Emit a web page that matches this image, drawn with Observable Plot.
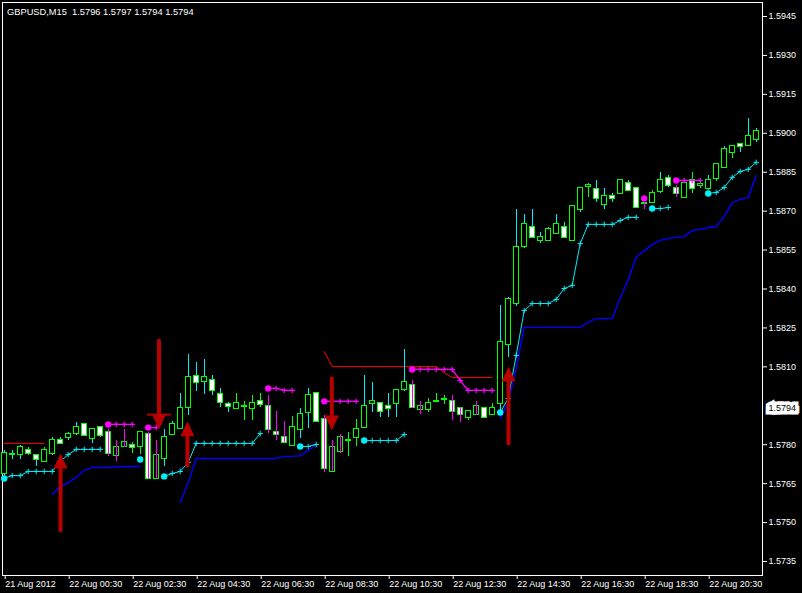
<!DOCTYPE html>
<html><head><meta charset="utf-8">
<script src="https://cdn.jsdelivr.net/npm/d3@7"></script>
<script src="https://cdn.jsdelivr.net/npm/@observablehq/plot@0.6"></script>
<style>html,body{margin:0;padding:0;background:#000;overflow:hidden}#chart svg{display:block}</style>
</head><body><div id="chart"></div>
<script>
const headerText = "GBPUSD,M15\u00a0 1.5796 1.5797 1.5794 1.5794";
const timeLabels = ["21 Aug 2012","22 Aug 00:30","22 Aug 02:30","22 Aug 04:30","22 Aug 06:30","22 Aug 08:30","22 Aug 10:30","22 Aug 12:30","22 Aug 14:30","22 Aug 16:30","22 Aug 18:30","22 Aug 20:30"];
const timeLabelBars = [0,8,16,24,32,40,48,56,64,72,80,88];
const priceTicks = [1.5945,1.5930,1.5915,1.5900,1.5885,1.5870,1.5855,1.5840,1.5825,1.5810,1.5780,1.5765,1.5750,1.5735];
const currentPrice = 1.5794;

const open = [1.57689,1.57762,1.57762,1.57778,1.57758,1.57735,1.57766,1.57816,1.57828,1.57843,
1.57878,1.57824,1.57866,1.57847,1.57758,1.57793,1.57797,1.57793,1.57839,1.57670,
1.57747,1.57839,1.57863,1.57943,1.58063,1.58044,1.58047,1.57994,1.57955,1.57940,
1.57947,1.57940,1.57967,1.57947,1.57847,1.57828,1.57797,1.57859,1.57924,1.57997,
1.57897,1.57697,1.57774,1.57816,1.57828,1.57866,1.57959,1.57959,1.57947,1.57959,
1.58013,1.58028,1.57936,1.57936,1.57966,1.57974,1.57967,1.57940,1.57905,1.57916,
1.57940,1.57916,1.57959,1.58186,1.58344,1.58564,1.58637,1.58587,1.58587,1.58614,
1.58637,1.58587,1.58706,1.58795,1.58784,1.58726,1.58757,1.58768,1.58807,1.58787,
1.58730,1.58733,1.58776,1.58826,1.58787,1.58753,1.58818,1.58799,1.58787,1.58826,
1.58868,1.58926,1.58957,1.58953,1.58976];
const high = [1.57778,1.57778,1.57797,1.57789,1.57760,1.57789,1.57828,1.57828,1.57847,1.57886,
1.57880,1.57860,1.57870,1.57859,1.57816,1.57859,1.57809,1.57851,1.57847,1.57816,
1.57859,1.57890,1.57997,1.58148,1.58117,1.58128,1.58067,1.58017,1.57963,1.57997,
1.57967,1.57990,1.57997,1.57990,1.57928,1.57890,1.57909,1.57940,1.58017,1.57999,
1.57913,1.57816,1.57839,1.57847,1.57897,1.58067,1.58040,1.57963,1.57997,1.58011,
1.58167,1.58047,1.57967,1.57978,1.57997,1.57990,1.57990,1.57942,1.57930,1.57967,
1.57942,1.57959,1.58337,1.58367,1.58706,1.58687,1.58706,1.58618,1.58637,1.58687,
1.58656,1.58720,1.58789,1.58807,1.58818,1.58787,1.58768,1.58820,1.58818,1.58789,
1.58732,1.58780,1.58849,1.58837,1.58799,1.58809,1.58849,1.58818,1.58837,1.58882,
1.58949,1.58951,1.58959,1.59057,1.59019];
const low = [1.57670,1.57743,1.57743,1.57760,1.57716,1.57733,1.57758,1.57801,1.57816,1.57836,
1.57834,1.57805,1.57828,1.57755,1.57735,1.57789,1.57766,1.57762,1.57668,1.57668,
1.57716,1.57837,1.57859,1.57913,1.58005,1.57994,1.57990,1.57943,1.57924,1.57938,
1.57893,1.57893,1.57943,1.57843,1.57816,1.57807,1.57795,1.57824,1.57863,1.57888,
1.57693,1.57695,1.57766,1.57755,1.57793,1.57864,1.57924,1.57905,1.57905,1.57905,
1.58005,1.57941,1.57916,1.57924,1.57963,1.57955,1.57893,1.57886,1.57893,1.57914,
1.57903,1.57914,1.57932,1.58136,1.58333,1.58556,1.58597,1.58575,1.58585,1.58612,
1.58597,1.58585,1.58695,1.58753,1.58733,1.58706,1.58733,1.58766,1.58778,1.58712,
1.58706,1.58731,1.58768,1.58791,1.58753,1.58751,1.58768,1.58787,1.58780,1.58814,
1.58866,1.58903,1.58926,1.58949,1.58965];
const close = [1.57766,1.57764,1.57789,1.57766,1.57743,1.57778,1.57816,1.57805,1.57839,1.57866,
1.57836,1.57859,1.57836,1.57766,1.57789,1.57809,1.57789,1.57847,1.57670,1.57758,
1.57828,1.57878,1.57940,1.58059,1.58040,1.58059,1.58009,1.57963,1.57947,1.57959,
1.57949,1.57959,1.57955,1.57859,1.57839,1.57809,1.57866,1.57916,1.57990,1.57890,
1.57708,1.57789,1.57828,1.57818,1.57859,1.57947,1.57967,1.57928,1.57940,1.58009,
1.58040,1.57943,1.57947,1.57959,1.57968,1.57975,1.57928,1.57916,1.57928,1.57947,
1.57905,1.57940,1.58194,1.58360,1.58560,1.58649,1.58599,1.58599,1.58629,1.58649,
1.58599,1.58718,1.58787,1.58797,1.58749,1.58757,1.58749,1.58818,1.58780,1.58714,
1.58731,1.58768,1.58818,1.58799,1.58768,1.58807,1.58787,1.58801,1.58818,1.58880,
1.58938,1.58949,1.58949,1.58988,1.59007];
// wick colour state per bar: c = up (aqua), m = down (magenta), g = neutral (lime)
const wickTrend = ["c","c","c","g","c","g","c","c","c","c",
"g","c","c","m","m","m","g","g","m","m",
"c","c","c","c","c","c","c","c","c","g",
"g","g","g","m","m","m","g","c","c","g",
"m","m","m","g","g","c","c","c","c","c",
"c","m","m","g","g","g","m","m","g","m",
"g","g","c","c","c","c","c","c","c","c",
"c","g","c","g","c","c","c","g","c","g",
"m","g","c","c","m","g","g","g","c","g",
"c","g","c","c","c"];

const N = null;
const cyanStop = [1.57670,1.57681,1.57681,1.57697,1.57697,1.57697,1.57697,1.57735,1.57762,1.57782,
1.57782,1.57782,1.57782,N,N,N,N,N,N,N,
1.57678,1.57689,1.57697,1.57732,1.57805,1.57805,1.57805,1.57805,1.57805,1.57805,
1.57805,1.57805,1.57843,N,N,N,N,1.57793,1.57793,1.57801,
N,N,N,N,N,1.57816,1.57816,1.57816,1.57816,1.57816,
1.57839,N,N,N,N,N,N,N,N,N,
N,N,1.57924,1.57978,1.58144,1.58317,1.58344,1.58344,1.58344,1.58360,
1.58402,1.58414,1.58575,1.58649,1.58649,1.58649,1.58649,1.58664,1.58676,1.58676,
N,1.58710,1.58710,1.58714,N,N,N,N,1.58768,1.58772,
1.58791,1.58830,1.58853,1.58861,1.58888];
const magentaStop = [N,N,N,N,N,N,N,N,N,N,
N,N,N,1.57878,1.57878,1.57878,1.57878,N,1.57866,1.57866,
N,N,N,N,N,N,N,N,N,N,
N,N,N,1.58017,1.58017,1.58009,1.58009,N,N,N,
1.57967,1.57967,1.57967,1.57967,1.57967,N,N,N,N,N,
N,1.58090,1.58090,1.58090,1.58090,1.58090,1.58090,1.58047,1.58009,1.58009,
1.58009,1.58009,N,N,N,N,N,N,N,N,
N,N,N,N,N,N,N,N,N,N,
N,N,N,N,1.58818,1.58818,1.58818,1.58818,N,N,
N,N,N,N,N];
const blueLine = [N,N,N,N,N,N,1.57608,1.57639,1.57654,1.57674,
1.57701,1.57712,1.57712,1.57712,1.57716,1.57716,1.57716,1.57716,N,N,
N,N,1.57577,1.57654,1.57747,1.57747,1.57747,1.57747,1.57747,1.57747,
1.57747,1.57747,1.57747,1.57747,1.57747,1.57755,1.57755,1.57758,1.57778,1.57797,
N,N,N,N,N,N,N,N,N,N,
N,N,N,N,N,N,N,N,N,N,
N,N,1.57901,1.57963,1.58094,1.58252,1.58252,1.58252,1.58252,1.58252,
1.58252,1.58252,1.58252,1.58271,1.58286,1.58286,1.58286,1.58364,1.58437,1.58521,
1.58548,1.58572,1.58587,1.58595,1.58599,1.58602,1.58626,1.58629,1.58637,1.58641,
1.58679,1.58733,1.58745,1.58753,1.58837];
const redLine = [1.57805,1.57805,1.57805,1.57805,1.57805,1.57805,N,N,N,N,
N,N,N,N,N,N,N,N,N,N,
N,N,N,N,N,N,N,N,N,N,
N,N,N,N,N,N,N,N,N,N,
1.58159,1.58101,1.58101,1.58101,1.58101,1.58101,1.58101,1.58101,1.58101,1.58101,
1.58101,1.58101,1.58101,1.58101,1.58101,1.58078,1.58059,1.58059,1.58059,1.58059,
1.58059,1.58059,N,N,N,N,N,N,N,N,
N,N,N,N,N,N,N,N,N,N,
N,N,N,N,N,N,N,N,N,N,
N,N,N,N,N];

const cyanDotBars = [0,17,20,37,45,62,81,88];
const cyanDotPrices = [1.57670,1.57743,1.57678,1.57793,1.57816,1.57924,1.58710,1.58768];
const magentaDotBars = [13,18,33,40,51,80,84];
const magentaDotPrices = [1.57878,1.57866,1.58017,1.57967,1.58090,1.58749,1.58818];

const arrowBars = [7.04,19.35,22.9,40.95,63.04];
const arrowTail = [1.57470,1.58202,1.57720,1.58055,1.57805];
const arrowTip  = [1.57766,1.57859,1.57890,1.57855,1.58101];
const capBarFrom = 17.9, capBarTo = 20.9, capPrice = 1.57916;

// colours
const AQUA = "#00f0fa", MAG = "#ff00ff", LIME = "#00ff00", BLUE = "#0000ff", RED = "#ff0000", ARROW = "#b80000";
const trendColor = {c: AQUA, m: MAG, g: LIME};

const bars = open.map((o, i) => ({i, open: o, high: high[i], low: low[i], close: close[i], trend: wickTrend[i]}));
const series = arr => arr.map((v, i) => ({i, v: v == null ? NaN : v}));
const crosses = (arr, skip) => arr.map((v, i) => ({i, v})).filter(d => d.v != null && !skip.includes(d.i));
const cyanDots = cyanDotBars.map((b, j) => ({i: b, v: cyanDotPrices[j]}));
const magentaDots = magentaDotBars.map((b, j) => ({i: b, v: magentaDotPrices[j]}));
const arrows = arrowBars.map((b, j) => ({i: b, tail: arrowTail[j], tip: arrowTip[j]}));
const headSymbol = {draw(ctx) { ctx.moveTo(0, 0); ctx.lineTo(7, 15); ctx.lineTo(-7, 15); ctx.closePath(); }};

const chart = Plot.plot({
  width: 802, height: 593,
  marginTop: 2, marginLeft: 2, marginRight: 40, marginBottom: 18,
  style: {background: "#000", color: "#fff", fontFamily: "'Liberation Sans', Arial, sans-serif", fontSize: "9px"},
  x: {domain: [0, 94], range: [3.7, 755.7]},
  y: {domain: [1.5735, 1.5945], range: [561, 16]},
  color: {type: "identity"},
  marks: [
    Plot.frame({stroke: "#fff", shapeRendering: "crispEdges"}),
    Plot.line(series(redLine), {x: "i", y: "v", stroke: RED, strokeWidth: 1}),
    Plot.line(series(blueLine), {x: "i", y: "v", stroke: BLUE, strokeWidth: 1.4}),
    Plot.line(series(cyanStop), {x: "i", y: "v", stroke: AQUA, strokeWidth: 1}),
    Plot.line(series(magentaStop), {x: "i", y: "v", stroke: MAG, strokeWidth: 1.3}),
    Plot.ruleX(bars.filter(d => d.trend !== "m"), {x: "i", y1: "low", y2: "high", stroke: d => trendColor[d.trend], strokeWidth: 1, shapeRendering: "crispEdges"}),
    Plot.rect(bars, {x1: d => d.i - 0.3, x2: d => d.i + 0.3, y1: "open", y2: "close",
      fill: d => d.close > d.open ? "#000" : "#fff", stroke: LIME, strokeWidth: 1, insetTop: -0.5, insetBottom: -0.5, shapeRendering: "crispEdges"}),
    Plot.ruleX(bars.filter(d => d.trend === "m"), {x: "i", y1: "low", y2: "high", stroke: MAG, strokeWidth: 1, shapeRendering: "crispEdges"}),
    Plot.dot(crosses(cyanStop, cyanDotBars), {x: "i", y: "v", symbol: "plus", r: 1.9, stroke: AQUA, strokeWidth: 1}),
    Plot.dot(crosses(magentaStop, magentaDotBars), {x: "i", y: "v", symbol: "plus", r: 1.9, stroke: MAG, strokeWidth: 1.2}),
    Plot.dot(cyanDots, {x: "i", y: "v", r: 3.2, fill: AQUA, stroke: "none"}),
    Plot.dot(magentaDots, {x: "i", y: "v", r: 3.2, fill: MAG, stroke: "none"}),
    Plot.ruleY([{from: capBarFrom, to: capBarTo, price: capPrice}], {y: "price", x1: "from", x2: "to", stroke: ARROW, strokeWidth: 2, ariaLabel: "signal-arrow"}),
    Plot.arrow(arrows, {x1: "i", x2: "i", y1: "tail", y2: "tip", stroke: ARROW, strokeWidth: 4, headLength: 0, insetEnd: 9, ariaLabel: "signal-arrow"}),
    Plot.dot(arrows, {x: "i", y: "tip", symbol: headSymbol, rotate: d => d.tip > d.tail ? 0 : 180, fill: ARROW, stroke: "none", ariaLabel: "signal-arrow"}),
    Plot.text([headerText], {frameAnchor: "top-left", dx: 4.5, dy: 6, text: d => d, textAnchor: "start", lineAnchor: "top", fill: "#fff", fontSize: 9.3}),
    Plot.axisY(priceTicks, {anchor: "right", tickSize: 4, tickPadding: 2, tickFormat: d => d.toFixed(4), label: null, fontSize: 9}),
    Plot.axisX(timeLabelBars, {anchor: "bottom", tickSize: 4, tickPadding: 1, tickFormat: d => timeLabels[timeLabelBars.indexOf(d)], textAnchor: "start", dx: 1, label: null, fontSize: 9}),
    Plot.text([currentPrice], {y: d => d, text: d => d.toFixed(4), frameAnchor: "right", dx: 6, textAnchor: "start",
      fill: "#000", stroke: "#fff", strokeWidth: 7, strokeLinejoin: "miter", paintOrder: "stroke", fontSize: 9})
  ]
});
chart.querySelectorAll('[aria-label="signal-arrow"]').forEach(g => { g.style.filter = "drop-shadow(5px 3px 3px rgba(140,140,140,0.55))"; });
document.getElementById("chart").appendChild(chart);
</script>
</body></html>
